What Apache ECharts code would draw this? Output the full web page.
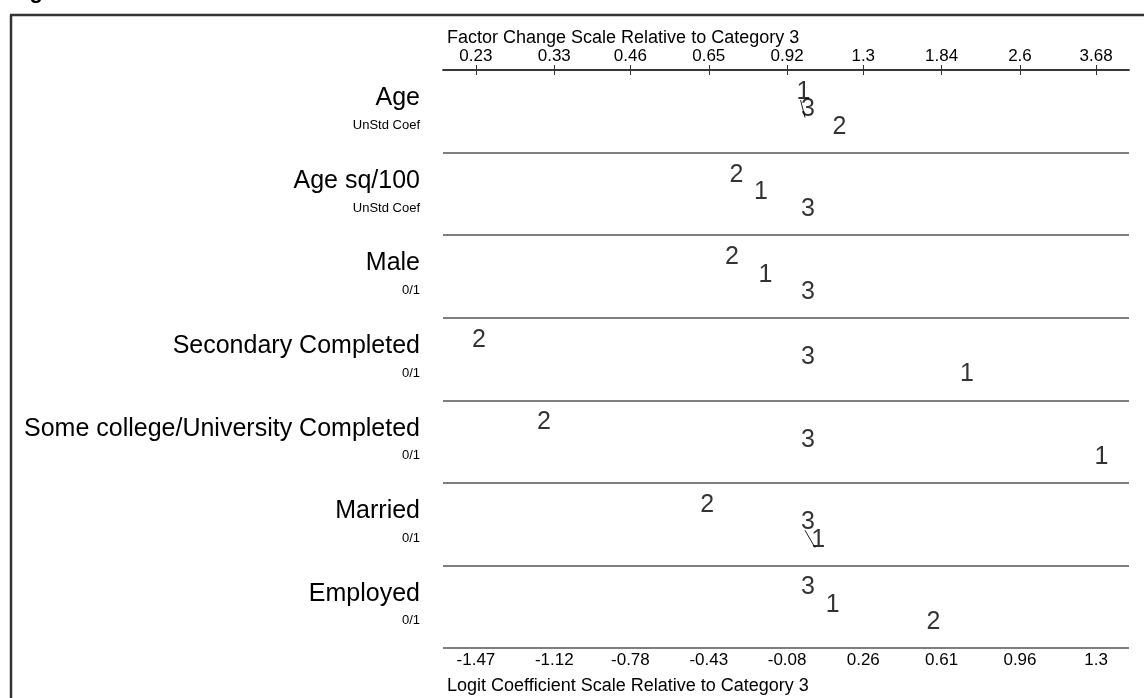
<!DOCTYPE html>
<html>
<head>
<meta charset="utf-8">
<script src="https://cdn.jsdelivr.net/npm/echarts@6/dist/echarts.min.js"></script>
<style>
  html, body { margin: 0; padding: 0; background: #fff; }
  #chart { width: 1144px; height: 698px; }
</style>
</head>
<body>
<div id="chart"></div>
<script>
// variables (rows) and their unit notes
const variables = ['Age', 'Age sq/100', 'Male', 'Secondary Completed',
  'Some college/University Completed', 'Married', 'Employed'];
const varUnits = ['UnStd Coef', 'UnStd Coef', '0/1', '0/1', '0/1', '0/1', '0/1'];

// logit coefficients relative to category 3
const cat1 = [-0.02, -0.21, -0.19, 0.71, 1.31, 0.045, 0.11];
const cat2 = [0.14, -0.32, -0.34, -1.47, -1.18, -0.45, 0.56];
const cat3 = [0, 0, 0, 0, 0, 0, 0];

// tick labels: bottom (logit) and top (factor change)
const logitTicks = [-1.47, -1.12, -0.78, -0.43, -0.08, 0.26, 0.61, 0.96, 1.3];
const factorTicks = ['0.23', '0.33', '0.46', '0.65', '0.92', '1.3', '1.84', '2.6', '3.68'];

// pairs joined by a line: [row, category, category]
const joined = [[0, '1', '3'], [5, '3', '1']];

const cats = { '1': cat1, '2': cat2, '3': cat3 };
const font = 'Liberation Sans, Arial, sans-serif';

// stagger the digits inside each row by their order
function pointOf(row, c) {
  const order = Object.keys(cats).sort((a, b) => cats[a][row] - cats[b][row]);
  const rank = order.indexOf(c);
  return [cats[c][row], row + 0.365 + 0.21 * rank];
}

const series = [];
joined.forEach(j => {
  series.push({
    type: 'line',
    silent: true,
    symbol: 'none',
    lineStyle: { color: '#222', width: 1 },
    data: [pointOf(j[0], j[1]), pointOf(j[0], j[2])],
    z: 1
  });
});
Object.keys(cats).forEach(c => {
  series.push({
    type: 'scatter',
    name: c,
    symbolSize: 0,
    silent: true,
    data: variables.map((v, i) => pointOf(i, c)),
    label: {
      show: true,
      position: 'inside',
      offset: [3, -8],
      formatter: c,
      color: '#000',
      fontFamily: font,
      fontSize: 25
    },
    z: 3
  });
});

const myChart = echarts.init(document.getElementById('chart'));
myChart.setOption({
  animation: false,
  backgroundColor: '#fff',
  grid: { left: 443, right: 15, top: 70, bottom: 50 },
  xAxis: [
    {
      type: 'value', position: 'bottom', min: -1.617, max: 1.447,
      axisLine: { lineStyle: { color: '#333', width: 1.5 } },
      axisTick: { inside: true, length: 5, customValues: logitTicks, lineStyle: { color: '#333' } },
      axisLabel: {
        customValues: logitTicks, margin: 4, color: '#000', fontFamily: font, fontSize: 17,
        formatter: v => String(v)
      },
      splitLine: { show: false }
    },
    {
      type: 'value', position: 'top', min: -1.617, max: 1.447,
      axisLine: { lineStyle: { color: '#333', width: 1.5 } },
      axisTick: { inside: true, length: 5, customValues: logitTicks, lineStyle: { color: '#333' } },
      axisLabel: {
        customValues: logitTicks, margin: 5, color: '#000', fontFamily: font, fontSize: 17,
        formatter: v => factorTicks[logitTicks.indexOf(v)]
      },
      splitLine: { show: false }
    }
  ],
  yAxis: {
    type: 'value', inverse: true, min: 0, max: 7, interval: 1,
    axisLine: { show: false },
    axisTick: { show: false },
    splitLine: { show: true, lineStyle: { color: '#555', width: 1.5 } },
    axisLabel: {
      customValues: variables.map((v, i) => i + 0.49),
      margin: 23,
      align: 'right',
      formatter: v => {
        const i = Math.round(v - 0.49);
        return '{n|' + variables[i] + '}\n{s|' + varUnits[i] + '}';
      },
      rich: {
        n: { fontFamily: font, fontSize: 25, color: '#000', lineHeight: 30, align: 'right' },
        s: { fontFamily: font, fontSize: 13, color: '#000', lineHeight: 24, align: 'right' }
      }
    }
  },
  graphic: [
    { type: 'line', shape: { x1: 10, y1: 15, x2: 1144, y2: 15 }, style: { stroke: '#333', lineWidth: 2.5 } },
    { type: 'line', shape: { x1: 11, y1: 15, x2: 11, y2: 698 }, style: { stroke: '#333', lineWidth: 2.5 } },
    { type: 'text', left: 10, top: -19, style: { text: 'Fig', font: 'bold 22px ' + font, fill: '#000' } },
    { type: 'text', left: 447, top: 29, style: { text: 'Factor Change Scale Relative to Category 3', font: '18px ' + font, fill: '#000' } },
    { type: 'text', left: 447, top: 677, style: { text: 'Logit Coefficient Scale Relative to Category 3', font: '18px ' + font, fill: '#000' } }
  ],
  series: series
});
</script>
</body>
</html>
